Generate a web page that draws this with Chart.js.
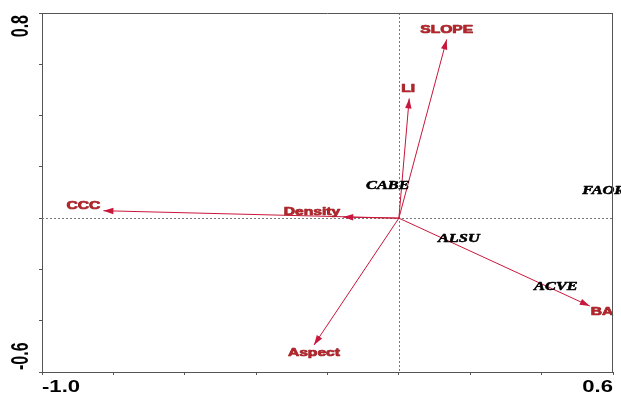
<!DOCTYPE html>
<html>
<head>
<meta charset="utf-8">
<script src="https://cdn.jsdelivr.net/npm/chart.js@4/dist/chart.umd.min.js"></script>
<style>
  html, body { margin: 0; padding: 0; background: #fff; }
  #wrap { width: 621px; height: 394px; }
</style>
</head>
<body>
<div id="wrap"><canvas id="c"></canvas></div>
<script>
// Environmental vectors (axis 1, axis 2 scores)
const envNames = ['SLOPE', 'LI', 'CCC', 'Density', 'BA', 'Aspect'];
const envX = [0.134, 0.029, -0.828, -0.156, 0.535, -0.238];
const envY = [0.697, 0.467, 0.029, 0.004, -0.343, -0.495];

// Species scores
const spNames = ['CABE', 'FAOR', 'ALSU', 'ACVE'];
const spX = [-0.031, 0.574, 0.168, 0.440];
const spY = [0.129, 0.109, -0.078, -0.265];

// Axis ranges and the end labels shown on each axis
const xRange = [-1.0, 0.6];
const yRange = [-0.6, 0.8];
const xTickLabels = ['-1.0', '0.6'];
const yTickLabels = ['-0.6', '0.8'];

const ARROW = '#c8173a';
const ENV_TEXT = '#b3242b';
const AXIS = '#555555';
const STRETCH = 1.42;

// where each vector label sits relative to its arrow tip
const labelPlace = {
  SLOPE:   { align: 'center', dx: 0,  dy: -9 },
  LI:      { align: 'center', dx: -1, dy: -9 },
  CCC:     { align: 'right',  dx: -3, dy: -5 },
  Density: { align: 'right',  dx: -3, dy: -5 },
  BA:      { align: 'left',   dx: 1,  dy: 6 },
  Aspect:  { align: 'center', dx: 0,  dy: 8 }
};

function wideText(ctx, text, x, y, align, sx, outline) {
  ctx.save();
  ctx.translate(x, y);
  ctx.scale(sx, 1);
  ctx.textAlign = align;
  if (outline) ctx.strokeText(text, 0, 0);
  ctx.fillText(text, 0, 0);
  ctx.restore();
}

const biplot = {
  id: 'biplot',
  beforeDatasetsDraw(chart) {
    const { ctx, chartArea: a, scales: { x, y } } = chart;
    const x0 = Math.round(x.getPixelForValue(0)) + 0.5;
    const y0 = Math.round(y.getPixelForValue(0)) + 0.5;
    ctx.save();
    ctx.strokeStyle = '#7a7a7a';
    ctx.lineWidth = 1;
    ctx.setLineDash([2, 2]);
    ctx.beginPath();
    ctx.moveTo(a.left, y0); ctx.lineTo(a.right, y0);
    ctx.moveTo(x0, a.top); ctx.lineTo(x0, a.bottom);
    ctx.stroke();
    ctx.restore();
  },
  afterDatasetsDraw(chart) {
    const { ctx, scales: { x, y } } = chart;
    const ox = x.getPixelForValue(0), oy = y.getPixelForValue(0);
    ctx.save();
    // arrow heads
    ctx.fillStyle = ARROW;
    envNames.forEach((n, i) => {
      const tx = x.getPixelForValue(envX[i]);
      const ty = y.getPixelForValue(envY[i]);
      const ang = Math.atan2(ty - oy, tx - ox);
      const len = 10, half = 3.2;
      const bx = tx - len * Math.cos(ang), by = ty - len * Math.sin(ang);
      ctx.beginPath();
      ctx.moveTo(tx, ty);
      ctx.lineTo(bx + half * Math.sin(ang), by - half * Math.cos(ang));
      ctx.lineTo(bx - half * Math.sin(ang), by + half * Math.cos(ang));
      ctx.closePath();
      ctx.fill();
    });
    // vector labels
    ctx.font = 'bold 11px "Liberation Sans", Arial, sans-serif';
    ctx.textBaseline = 'middle';
    ctx.fillStyle = ENV_TEXT;
    ctx.strokeStyle = '#941c21';
    ctx.lineWidth = 0.7;
    ctx.lineJoin = 'round';
    envNames.forEach((n, i) => {
      const p = labelPlace[n];
      const tx = x.getPixelForValue(envX[i]) + p.dx;
      const ty = y.getPixelForValue(envY[i]) + p.dy;
      wideText(ctx, n, tx, ty, p.align, STRETCH, true);
    });
    // species labels
    ctx.font = 'italic bold 11.5px "Liberation Serif", "Times New Roman", serif';
    ctx.fillStyle = '#000';
    ctx.strokeStyle = '#000';
    ctx.lineWidth = 0.5;
    spNames.forEach((n, i) => {
      wideText(ctx, n, x.getPixelForValue(spX[i]), y.getPixelForValue(spY[i]) + 1, 'center', STRETCH, true);
    });
    ctx.restore();
  },
  afterDraw(chart) {
    const { ctx, chartArea: a, scales: { x, y } } = chart;
    ctx.save();
    ctx.strokeStyle = AXIS;
    ctx.lineWidth = 1;
    ctx.beginPath();
    ctx.moveTo(a.left, a.top + 0.5); ctx.lineTo(a.right, a.top + 0.5);
    ctx.moveTo(a.right - 0.5, a.top); ctx.lineTo(a.right - 0.5, a.bottom);
    ctx.stroke();

    // axis end labels
    ctx.fillStyle = '#000';
    ctx.font = 'bold 16px "Liberation Sans", Arial, sans-serif';
    ctx.textBaseline = 'top';
    const ly = a.bottom + 8;
    wideText(ctx, xTickLabels[0], x.getPixelForValue(xRange[0]), ly, 'left', 1.38);
    wideText(ctx, xTickLabels[1], x.getPixelForValue(xRange[1]), ly, 'right', 1.38);

    // vertical labels, reading bottom to top
    const drawV = (text, py, align) => {
      ctx.save();
      ctx.translate(28, py);
      ctx.scale(1.45, 1);
      ctx.rotate(-Math.PI / 2);
      ctx.textAlign = align;
      ctx.textBaseline = 'alphabetic';
      ctx.fillText(text, 0, 0);
      ctx.restore();
    };
    drawV(yTickLabels[0], y.getPixelForValue(yRange[0]) - 2, 'left');
    drawV(yTickLabels[1], y.getPixelForValue(yRange[1]) + 2, 'right');
    ctx.restore();
  }
};

const vectorSets = envNames.map((n, i) => ({
  label: n,
  data: [{ x: 0, y: 0 }, { x: envX[i], y: envY[i] }],
  showLine: true,
  borderColor: ARROW,
  borderWidth: 1,
  pointRadius: 0,
  fill: false
}));

const speciesSet = {
  label: 'species',
  data: spNames.map((n, i) => ({ x: spX[i], y: spY[i] })),
  pointRadius: 0,
  showLine: false
};

new Chart(document.getElementById('c'), {
  type: 'scatter',
  data: { datasets: [...vectorSets, speciesSet] },
  options: {
    responsive: true,
    maintainAspectRatio: false,
    animation: false,
    layout: { padding: { left: 0, top: 13, right: 8, bottom: 0 } },
    plugins: { legend: { display: false }, tooltip: { enabled: false } },
    scales: {
      x: {
        type: 'linear',
        min: xRange[0], max: xRange[1],
        ticks: { stepSize: 0.2, display: false },
        grid: { drawOnChartArea: false, drawTicks: true, tickLength: 3, color: AXIS },
        border: { display: true, color: AXIS, width: 1 },
        afterFit(s) { s.height = 22; }
      },
      y: {
        type: 'linear',
        min: yRange[0], max: yRange[1],
        ticks: { stepSize: 0.2, display: false },
        grid: { drawOnChartArea: false, drawTicks: true, tickLength: 3, color: AXIS },
        border: { display: true, color: AXIS, width: 1 },
        afterFit(s) { s.width = 42; }
      }
    }
  },
  plugins: [biplot]
});
</script>
</body>
</html>
